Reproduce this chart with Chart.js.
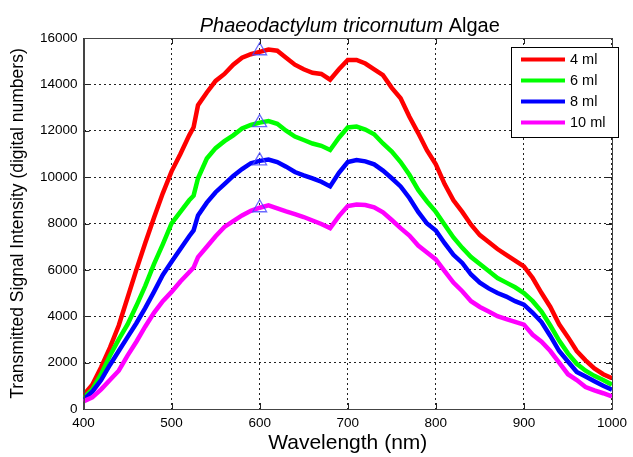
<!DOCTYPE html>
<html>
<head>
<meta charset="utf-8">
<script src="https://cdn.jsdelivr.net/npm/chart.js@4.4.0/dist/chart.umd.min.js"></script>
<style>
  body { margin: 0; background: #fff; }
  #wrap { width: 633px; height: 457px; position: relative; }
</style>
</head>
<body>
<div id="wrap"><canvas id="algaeChart"></canvas></div>
<script>
// wavelengths (nm)
const wavelengths = [400, 410, 420, 430, 440, 450, 460, 470, 480, 490, 500, 510, 520, 525,
    530, 540, 550, 560, 570, 580, 590, 600, 610, 620, 630, 640, 650, 660, 670, 680, 690,
    700, 710, 720, 730, 740, 750, 760, 770, 780, 790, 800, 810, 820, 830, 840, 850, 860,
    870, 880, 890, 900, 910, 920, 930, 940, 950, 960, 970, 980, 990, 1000];

// transmitted signal (digital numbers)
const ml4 = [600, 1050, 1800, 2650, 3600, 4800, 6000, 7150, 8250, 9300, 10250, 11000, 11800, 12150,
    13100, 13650, 14150, 14450, 14850, 15150, 15300, 15400, 15500, 15450, 15150, 14850, 14650, 14500, 14450, 14200, 14650,
    15050, 15050, 14900, 14650, 14400, 13850, 13400, 12600, 11900, 11150, 10550, 9700, 9000, 8500, 7950, 7500, 7200,
    6900, 6650, 6400, 6150, 5650, 5000, 4400, 3650, 3100, 2500, 2100, 1750, 1500, 1330];
const ml6 = [480, 850, 1500, 2300, 3000, 3650, 4450, 5300, 6250, 7100, 8000, 8500, 9000, 9200,
    9950, 10800, 11250, 11550, 11800, 12100, 12250, 12350, 12420, 12300, 12000, 11750, 11600, 11450, 11350, 11170, 11700,
    12140, 12180, 12050, 11850, 11450, 11100, 10650, 10100, 9450, 8950, 8500, 7950, 7400, 6950, 6550, 6250, 5950,
    5650, 5450, 5250, 5000, 4650, 4200, 3600, 2950, 2400, 1950, 1650, 1430, 1250, 1050];
const ml8 = [400, 750, 1250, 1900, 2500, 3100, 3700, 4350, 5050, 5780, 6350, 6900, 7450, 7700,
    8350, 8900, 9350, 9700, 10050, 10350, 10600, 10700, 10760, 10650, 10450, 10220, 10080, 9950, 9800, 9600, 10190,
    10650, 10740, 10680, 10550, 10280, 9950, 9600, 9100, 8500, 8000, 7700, 7150, 6650, 6300, 5800, 5450, 5200,
    5000, 4850, 4650, 4500, 4150, 3750, 3150, 2500, 2050, 1600, 1400, 1200, 1000, 830];
const ml10 = [330, 500, 850, 1250, 1650, 2300, 2900, 3550, 4150, 4650, 5050, 5500, 5900, 6100,
    6550, 7000, 7450, 7850, 8100, 8350, 8550, 8680, 8780, 8650, 8520, 8400, 8280, 8130, 7980, 7800, 8320,
    8750, 8820, 8800, 8700, 8480, 8150, 7800, 7480, 7050, 6750, 6450, 5950, 5450, 5080, 4650, 4400, 4200,
    4000, 3880, 3760, 3640, 3200, 2900, 2500, 2000, 1500, 1250, 950, 800, 680, 540];

// peak markers at 600 nm
const peakX = [600, 600, 600, 600];
const peakY = [15450, 12350, 10700, 8680];

const seriesLabels = ['4 ml', '6 ml', '8 ml', '10 ml'];
const seriesColors = ['#ff0000', '#00ff00', '#0000ff', '#ff00ff'];

const xTicks = [400, 500, 600, 700, 800, 900, 1000];
const yTicks = [0, 2000, 4000, 6000, 8000, 10000, 12000, 14000, 16000];

const FONT = '"Liberation Sans", Arial, Helvetica, sans-serif';

function toPoints(xs, ys) {
    return xs.map((x, i) => ({ x: x, y: ys[i] }));
}

const allSeries = [ml4, ml6, ml8, ml10];
const datasets = allSeries.map((vals, i) => ({
    label: seriesLabels[i],
    data: toPoints(wavelengths, vals),
    borderColor: seriesColors[i],
    backgroundColor: seriesColors[i],
    borderWidth: 4.5,
    pointRadius: 0,
    tension: 0,
    fill: false,
    order: 4 - i
}));
datasets.push({
    label: 'peaks',
    data: toPoints(peakX, peakY),
    showLine: false,
    pointStyle: 'triangle',
    pointRadius: 8,
    pointBorderWidth: 1.3,
    pointBorderColor: 'rgba(70, 70, 255, 0.8)',
    pointBackgroundColor: 'rgba(0,0,0,0)',
    order: -1
});

// title with italic species name
const titlePlugin = {
    id: 'mixedTitle',
    afterDraw(chart) {
        const ctx = chart.ctx;
        const area = chart.chartArea;
        const part1 = 'Phaeodactylum tricornutum';
        const part2 = ' Algae';
        ctx.save();
        ctx.fillStyle = '#000';
        ctx.textBaseline = 'alphabetic';
        ctx.font = 'italic 20px ' + FONT;
        const w1 = ctx.measureText(part1).width;
        ctx.font = '20px ' + FONT;
        const w2 = ctx.measureText(part2).width;
        const cx = (area.left + area.right) / 2 + 2;
        let x = cx - (w1 + w2) / 2;
        ctx.font = 'italic 20px ' + FONT;
        ctx.fillText(part1, x, 32);
        ctx.font = '20px ' + FONT;
        ctx.fillText(part2, x + w1, 32);
        ctx.restore();
    }
};

// box, inner tick marks and legend (matlab look)
const framePlugin = {
    id: 'frame',
    afterDraw(chart) {
        const ctx = chart.ctx;
        const a = chart.chartArea;
        const xs = chart.scales.x;
        const ys = chart.scales.y;
        ctx.save();
        ctx.strokeStyle = '#222';
        ctx.lineWidth = 1;
        ctx.beginPath();
        xTicks.forEach(v => {
            const px = Math.round(xs.getPixelForValue(v)) + 0.5;
            ctx.moveTo(px, a.bottom); ctx.lineTo(px, a.bottom - 6);
            ctx.moveTo(px, a.top); ctx.lineTo(px, a.top + 6);
        });
        yTicks.forEach(v => {
            const py = Math.round(ys.getPixelForValue(v)) + 0.5;
            ctx.moveTo(a.left, py); ctx.lineTo(a.left + 6, py);
            ctx.moveTo(a.right, py); ctx.lineTo(a.right - 6, py);
        });
        ctx.stroke();
        ctx.strokeStyle = '#444';
        ctx.strokeRect(Math.round(a.left) + 0.5, Math.round(a.top) + 0.5,
            Math.round(a.right - a.left), Math.round(a.bottom - a.top));

        // legend
        const lx = 511.5, ly = 47.5, lw = 107, lh = 90;
        ctx.fillStyle = '#fff';
        ctx.fillRect(lx, ly, lw, lh);
        ctx.strokeStyle = '#000';
        ctx.strokeRect(lx, ly, lw, lh);
        ctx.font = '14.5px ' + FONT;
        ctx.textBaseline = 'middle';
        seriesLabels.forEach((lab, i) => {
            const y = 59.5 + i * 21;
            ctx.strokeStyle = seriesColors[i];
            ctx.lineWidth = 4;
            ctx.beginPath();
            ctx.moveTo(521, y); ctx.lineTo(565, y);
            ctx.stroke();
            ctx.fillStyle = '#000';
            ctx.fillText(lab, 570, y);
        });
        ctx.restore();
    }
};

const ctx = document.getElementById('algaeChart').getContext('2d');
const algaeChart = new Chart(ctx, {
    type: 'line',
    data: { datasets: datasets },
    options: {
        responsive: true,
        maintainAspectRatio: false,
        animation: false,
        layout: { padding: { top: 38, right: 13, left: 0, bottom: 0 } },
        plugins: {
            legend: { display: false },
            title: { display: false },
            tooltip: { enabled: false }
        },
        scales: {
            x: {
                type: 'linear',
                min: 400,
                max: 1000,
                afterBuildTicks: scale => { scale.ticks = xTicks.map(v => ({ value: v })); },
                afterFit: scale => { scale.height = 48; },
                grid: { color: '#222', lineWidth: 1, drawTicks: false },
                border: { display: true, color: '#444', width: 1, dash: [2, 3] },
                ticks: {
                    color: '#000', padding: 6, font: { family: FONT, size: 13.5 },
                    callback: value => String(value)
                },
                title: {
                    display: true,
                    text: 'Wavelength (nm)',
                    color: '#000',
                    font: { family: FONT, size: 21 },
                    padding: { top: 0, bottom: 1 }
                }
            },
            y: {
                min: 0,
                max: 16000,
                afterBuildTicks: scale => { scale.ticks = yTicks.map(v => ({ value: v })); },
                afterFit: scale => { scale.width = 83.5; },
                grid: { color: '#222', lineWidth: 1, drawTicks: false },
                border: { display: true, color: '#444', width: 1, dash: [2, 3] },
                ticks: {
                    color: '#000', padding: 6, font: { family: FONT, size: 13.5 },
                    callback: value => String(value)
                },
                title: {
                    display: true,
                    text: 'Transmitted Signal Intensity (digital numbers)',
                    color: '#000',
                    font: { family: FONT, size: 17.5 },
                    padding: { top: 8, bottom: 0 }
                }
            }
        }
    },
    plugins: [titlePlugin, framePlugin]
});
</script>
</body>
</html>
